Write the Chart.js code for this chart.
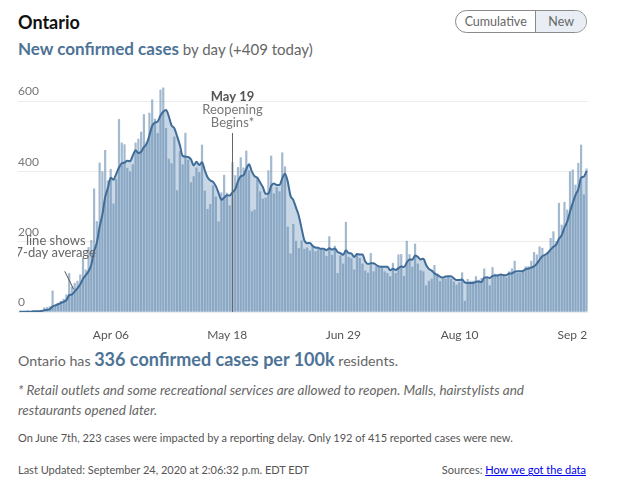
<!DOCTYPE html>
<html>
<head>
<meta charset="utf-8">
<script src="https://cdn.jsdelivr.net/npm/chart.js@4"></script>
<style>
  body { margin: 0; background: #fff; font-family: Lato, "Open Sans", sans-serif; color: #666; }
  .wrap { position: relative; width: 630px; height: 479px; overflow: hidden; }
  .abs { position: absolute; white-space: nowrap; }
  .title { left: 18px; top: 10px; font-size: 18px; line-height: 24px; font-weight: 700; color: #111; }
  .sub { left: 18px; top: 37px; line-height: 24px; font-size: 15px; color: #666; }
  .sub b { font-size: 17px; color: #4d7396; }
  .pill { left: 455px; top: 10px; width: 130px; height: 21px; border: 1px solid #8a8a8a; border-radius: 12px; overflow: hidden; display: flex; font-size: 12.5px; line-height: 21px; color: #666; }
  .pill span { display: block; text-align: center; }
  .pill .cum { width: 80px; }
  .pill .new { width: 50px; background: #e8eef4; border-left: 1px solid #8a8a8a; }
  #box { left: 18px; top: 84px; width: 570px; height: 260px; }
  .per { left: 18px; top: 347px; line-height: 24px; font-size: 14.2px; }
  .per b { font-size: 18px; color: #4d7396; }
  .note { left: 18px; top: 381px; line-height: 19.5px; font-size: 13.5px; font-style: italic; }
  .delay { left: 18px; top: 430px; font-size: 11px; line-height: 16px; color: #555; }
  .upd { left: 18px; top: 462px; font-size: 11px; line-height: 16px; color: #555; }
  .src { right: 44px; top: 462px; font-size: 11px; line-height: 16px; color: #555; }
  .src a { color: #0000ee; text-decoration: underline; }
</style>
</head>
<body>
<div class="wrap">
  <div class="abs title">Ontario</div>
  <div class="abs sub"><b>New confirmed cases</b> by day (+409 today)</div>
  <div class="abs pill"><span class="cum">Cumulative</span><span class="new">New</span></div>
  <div class="abs" id="box"><canvas id="casesChart"></canvas></div>
  <div class="abs per">Ontario has <b>336 confirmed cases per 100k</b> residents.</div>
  <div class="abs note">* Retail outlets and some recreational services are allowed to reopen. Malls, hairstylists and<br>restaurants opened later.</div>
  <div class="abs delay">On June 7th, 223 cases were impacted by a reporting delay. Only 192 of 415 reported cases were new.</div>
  <div class="abs upd">Last Updated: September 24, 2020 at 2:06:32 p.m. EDT EDT</div>
  <div class="abs src">Sources: <a href="#">How we got the data</a></div>
</div>
<script>
// daily new cases, Mar 03 .. Sep 24 2020
const cases = [
  1, 0, 2, 5, 0, 3, 2, 3, 6, 13, 14, 16, 61, 18, 26, 32, 38, 50, 111, 73, 83, 89, 107, 154, 121, 185, 205, 352, 259,
  426, 401, 462, 375, 408, 309, 379, 550, 483, 478, 411, 401, 421, 483, 494, 514, 564, 485, 568, 606, 551, 510, 634, 640, 525, 437, 424, 500, 347, 459,
  421, 511, 434, 370, 387, 412, 399, 477, 346, 294, 308, 361, 329, 258, 341, 391, 340, 304, 427, 390, 413, 441, 412, 460, 404, 287, 292, 383, 344, 323, 326,
  404, 446, 338, 356, 344, 455, 415, 243, 167, 251, 203, 182, 204, 180, 184, 175, 190, 173, 178, 181, 177, 160, 216, 163, 189, 111, 161, 138, 257, 157,
  153, 121, 165, 154, 138, 118, 112, 168, 116, 129, 130, 130, 116, 111, 102, 140, 111, 164, 165, 103, 203, 165, 129, 195, 138, 119, 116, 76, 89, 95, 134,
  110, 88, 95, 95, 100, 95, 87, 78, 85, 113, 32, 94, 89, 89, 102, 92, 97, 124, 99, 76, 128, 109, 105, 107, 108, 99, 116, 124, 146, 111, 111,
  114, 130, 130, 146, 171, 164, 187, 183, 159, 170, 211, 230, 202, 311, 249, 314, 292, 401, 406, 363, 425, 477, 335, 409
];

// 7-day average line as drawn
const avg7 = [
  1, 1, 1, 1, 1, 2, 2, 2, 3, 5, 6, 8, 16, 19, 22, 26, 29, 34, 48, 50, 59, 68, 79, 95, 105, 116, 135, 173, 198,
  243, 278, 327, 354, 383, 377, 394, 412, 424, 426, 431, 430, 446, 461, 453, 457, 470, 480, 504, 531, 540, 543, 560, 571, 576, 558, 532, 524, 501, 476,
  445, 443, 442, 435, 418, 428, 419, 427, 404, 384, 375, 371, 359, 339, 320, 326, 333, 332, 341, 350, 372, 387, 390, 407, 421, 401, 387, 383, 369, 356, 337,
  337, 360, 366, 362, 362, 381, 394, 371, 331, 319, 297, 274, 238, 204, 196, 197, 188, 184, 183, 180, 180, 176, 182, 178, 181, 171, 168, 163, 176, 168,
  167, 157, 165, 164, 164, 144, 137, 139, 139, 134, 130, 129, 129, 129, 119, 123, 120, 125, 130, 128, 141, 150, 149, 161, 157, 150, 152, 134, 123, 118, 110,
  106, 101, 98, 101, 102, 102, 96, 91, 91, 93, 84, 83, 83, 83, 86, 87, 85, 98, 99, 97, 103, 104, 105, 107, 105, 105, 110, 110, 115, 116, 116,
  117, 122, 124, 127, 130, 138, 149, 159, 163, 169, 178, 186, 192, 209, 219, 241, 258, 286, 311, 334, 350, 383, 386, 402
];

const tickDays = ['Apr 06', 'May 18', 'Jun 29', 'Aug 10', 'Sep 21'];
const yTicks = [0, 200, 400, 600];
const reopenDay = 'May 19';

const monthNames = ['Jan', 'Feb', 'Mar', 'Apr', 'May', 'Jun', 'Jul', 'Aug', 'Sep', 'Oct', 'Nov', 'Dec'];
const days = cases.map((_, i) => {
    const d = new Date(2020, 2, 3 + i);
    return monthNames[d.getMonth()] + ' ' + String(d.getDate()).padStart(2, '0');
});

// notes drawn on the plot
const notes = {
    id: 'notes',
    afterDatasetsDraw(chart) {
        const { ctx, chartArea, scales: { x, y } } = chart;
        ctx.save();

        // reopening marker
        const rx = Math.round(x.getPixelForValue(days.indexOf(reopenDay))) + 0.5;
        ctx.strokeStyle = '#666';
        ctx.lineWidth = 1;
        ctx.beginPath();
        ctx.moveTo(rx, chartArea.top + 49);
        ctx.lineTo(rx, chartArea.bottom);
        ctx.stroke();
        ctx.textAlign = 'center';
        ctx.textBaseline = 'middle';
        ctx.fillStyle = '#555';
        ctx.font = 'bold 13px Lato';
        ctx.fillText('May 19', rx, chartArea.top + 13);
        ctx.fillStyle = '#777';
        ctx.font = '13px Lato';
        ctx.fillText('Reopening', rx, chartArea.top + 26);
        ctx.fillText('Begins*', rx, chartArea.top + 38.5);

        // 7-day average callout
        const ax = x.getPixelForValue(20);
        const ay = y.getPixelForValue(avg7[20]);
        ctx.strokeStyle = '#555';
        ctx.beginPath();
        ctx.moveTo(ax - 10, ay - 20);
        ctx.lineTo(ax - 1, ay - 2);
        ctx.stroke();
        ctx.fillStyle = '#666';
        ctx.fillText('line shows', ax - 19, ay - 50.5);
        ctx.fillText('7-day average', ax - 19, ay - 38.5);
        ctx.restore();
    }
};

Chart.defaults.font.family = 'Lato';

new Chart(document.getElementById('casesChart'), {
    type: 'bar',
    data: {
        labels: days,
        datasets: [
            {
                type: 'line',
                data: avg7,
                borderColor: '#3f6c98',
                borderWidth: 2,
                backgroundColor: '#c8d7e6',
                fill: 'origin',
                pointRadius: 0,
                tension: 0.4,
                cubicInterpolationMode: 'monotone',
                order: 1
            },
            {
                data: cases,
                backgroundColor: 'rgba(88, 128, 168, 0.55)',
                barPercentage: 1,
                categoryPercentage: 0.8,
                order: 2
            }
        ]
    },
    options: {
        responsive: true,
        maintainAspectRatio: false,
        animation: false,
        layout: { padding: 0 },
        plugins: {
            legend: { display: false },
            tooltip: { enabled: false },
            filler: { drawTime: 'beforeDatasetsDraw' }
        },
        scales: {
            x: {
                offset: true,
                grid: { display: false },
                border: { display: false },
                ticks: {
                    autoSkip: false,
                    maxRotation: 0,
                    minRotation: 0,
                    padding: 8,
                    labelOffset: -2.5,
                    color: '#555',
                    font: { size: 12 },
                    callback: (value, index) => tickDays.includes(days[index]) ? days[index] : ''
                },
                afterFit: (scale) => {
                    scale.height = 32;
                    scale.paddingLeft = 0;
                    scale.paddingRight = 0;
                }
            },
            y: {
                min: 0,
                max: 650,
                grid: { color: '#ececec', drawTicks: false },
                border: { display: false },
                afterBuildTicks: (scale) => { scale.ticks = yTicks.map(v => ({ value: v })); },
                ticks: {
                    mirror: true,
                    padding: 0,
                    labelOffset: -10,
                    color: '#777',
                    font: { size: 12 }
                },
                afterFit: (scale) => {
                    scale.width = 0;
                    scale.paddingTop = 0;
                    scale.paddingBottom = 0;
                }
            }
        }
    },
    plugins: [notes]
});
</script>
</body>
</html>
